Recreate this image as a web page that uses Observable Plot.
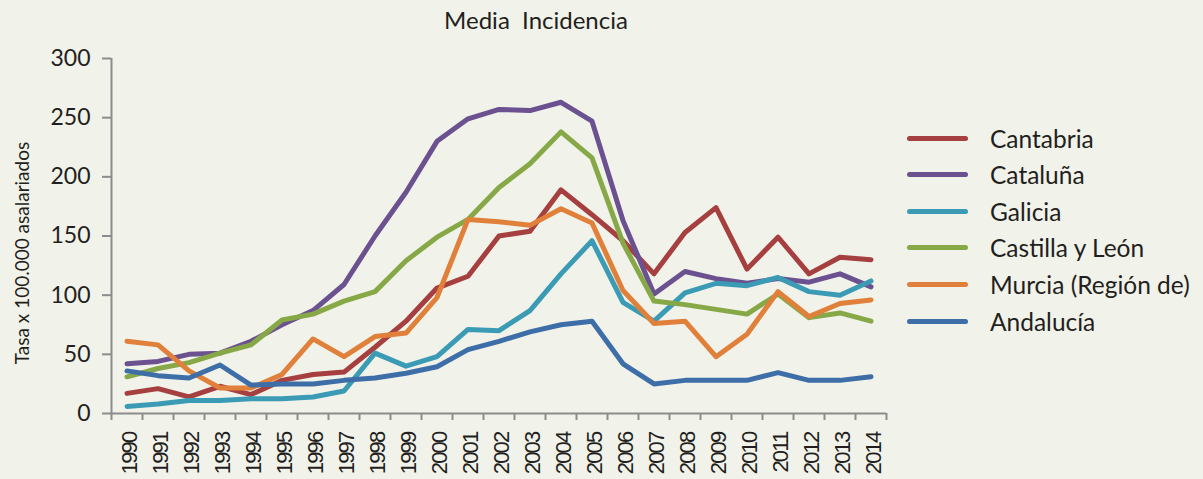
<!DOCTYPE html>
<html><head><meta charset="utf-8">
<script src="https://cdn.jsdelivr.net/npm/d3@7"></script>
<script src="https://cdn.jsdelivr.net/npm/@observablehq/plot@0.6"></script>
<style>
body{margin:0;background:#f1f2e9;}
#wrap{position:relative;width:1203px;height:479px;overflow:hidden;background:#f1f2e9;font-family:Lato,"Open Sans",sans-serif;color:#231f20}
#title{position:absolute;left:0;width:1072px;top:4px;text-align:center;font-size:24px;white-space:pre;line-height:32px}
#ytitle{position:absolute;left:21px;top:253px;transform:translate(-50%,-50%) rotate(-90deg);font-size:19px;white-space:nowrap}
#legend{position:absolute;left:907px;top:120px}
.row{position:absolute;left:0;height:36px;display:flex;align-items:center;white-space:nowrap}
.sw{width:61px;height:5px;border-radius:3px;margin-right:22px}
.lab{font-size:24.5px}
#chart{position:absolute;left:0;top:0}
#chart g[aria-label="x-axis tick label"] text{letter-spacing:-1.8px}
</style></head>
<body><div id="wrap"><div id="chart"></div><div id="title"></div><div id="ytitle"></div><div id="legend"></div></div>
<script>
const titleText = "Media  Incidencia";
const yTitle = "Tasa x 100.000 asalariados";
const years = [1990,1991,1992,1993,1994,1995,1996,1997,1998,1999,2000,2001,2002,2003,2004,2005,2006,2007,2008,2009,2010,2011,2012,2013,2014];
const yTicks = [0,50,100,150,200,250,300];
const regions = ["Cantabria","Cataluña","Galicia","Castilla y León","Murcia (Región de)","Andalucía"];
const colors = ["#a63f3f","#6c5190","#3b9bb5","#87a847","#e0803a","#3e6ea8"];

const cantabria = [17,21,14,23,16,28,33,35,56,78,106,116,150,154,189,168,146,118,153,174,122,149,118,132,130];
const cataluna  = [42,44,50,51,61,75,87,109,150,187,230,249,257,256,263,247,163,101,120,114,110,114,111,118,107];
const galicia   = [6,8,11,11,12.5,12.5,14,19,51,40,48,71,70,87,118,146,94,78,102,110,108,115,103,100,112];
const castilla  = [31,38,43,51,58,79,84,95,103,129,149,164,191,211,238,216,144,95,92,88,84,101,81,85,78];
const murcia    = [61,58,36,21.5,21.5,33,63,48,65,68,98,164,162,159,173,161,104,76,78,48,67,103,82,93,96];
const andalucia = [36,32,30,41,24,25,25,28,30,34,39.5,54,61,69,75,78,42,25,28,28,28,34.5,28,28,31];

const series = [cantabria, cataluna, galicia, castilla, murcia, andalucia];
const rows = [];
regions.forEach((r, i) => series[i].forEach((v, j) => rows.push({region: r, year: years[j], value: v})));
const halfTicks = d3.range(years[0] - 0.5, years[years.length - 1] + 1, 1);

const axisColor = "#8c8c8c";
const chart = Plot.plot({
  width: 1203, height: 479,
  marginLeft: 111, marginRight: 317, marginTop: 58, marginBottom: 66,
  style: {background: "transparent", fontFamily: "Lato, sans-serif", color: "#231f20", overflow: "visible"},
  x: {domain: [years[0] - 0.5, years[years.length - 1] + 0.5]},
  y: {domain: [0, 300]},
  color: {domain: regions, range: colors},
  marks: [
    Plot.axisY({ticks: yTicks, tickSize: 9, tickPadding: 12, fontSize: 23, label: null, stroke: axisColor, strokeWidth: 2, tickFormat: d => String(d)}),
    Plot.axisX({ticks: halfTicks, tickSize: 7, tickFormat: () => "", label: null, stroke: axisColor, strokeWidth: 2}),
    Plot.axisX({ticks: years, tickSize: 0, tickPadding: 19, tickRotate: -90, fontSize: 22, fontFamily: "'Liberation Sans', Arial, sans-serif", tickFormat: d => String(d), label: null, dx: 3}),
    Plot.ruleX([years[0] - 0.5], {stroke: axisColor, strokeWidth: 2}),
    Plot.ruleY([0], {stroke: axisColor, strokeWidth: 2}),
    Plot.line(rows, {x: "year", y: "value", z: "region", stroke: "region", strokeWidth: 5, strokeLinejoin: "round", strokeLinecap: "round"})
  ]
});
document.getElementById("chart").appendChild(chart);
document.getElementById("title").textContent = titleText;
document.getElementById("ytitle").textContent = yTitle;
const leg = document.getElementById("legend");
regions.forEach((r, i) => {
  const row = document.createElement("div");
  row.className = "row";
  row.style.top = (i * 36.6) + "px";
  const sw = document.createElement("div"); sw.className = "sw"; sw.style.background = colors[i];
  const lab = document.createElement("div"); lab.className = "lab"; lab.textContent = r;
  row.appendChild(sw); row.appendChild(lab); leg.appendChild(row);
});
</script></body></html>
